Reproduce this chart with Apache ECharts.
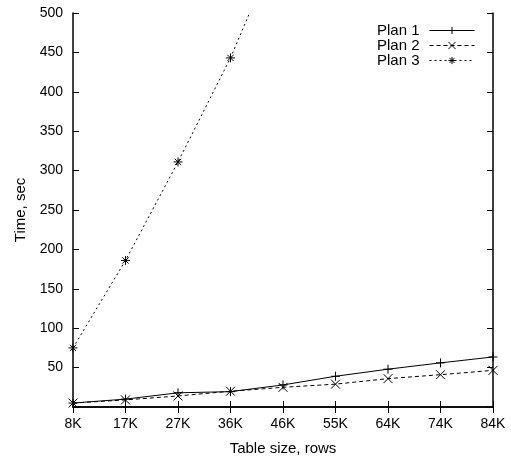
<!DOCTYPE html>
<html><head><meta charset="utf-8">
<script src="https://cdn.jsdelivr.net/npm/echarts@6/dist/echarts.min.js"></script>
<style>html,body{margin:0;padding:0;background:#fff}#c{width:511px;height:457px}</style>
</head><body><div id="c"></div>
<script>
var categories = ['8K','17K','27K','36K','46K','55K','64K','74K','84K'];
var plan1 = [5, 10, 18, 19.5, 28, 39, 48, 56, 63.5];
var plan2 = [5, 9, 14, 20, 25, 29, 36, 41, 46.5];
var plan3 = [75, 186, 311, 443, 600, null, null, null, null];
var yTicks = {min: 0, max: 500, interval: 50};

var font = 'Liberation Sans, Arial, sans-serif';
var plus = 'path://M0,5L10,5M5,0L5,10';
var cross = 'path://M0,0L10,10M0,10L10,0';
var star = 'path://M0,5L10,5M5,0L5,10M1.5,1.5L8.5,8.5M1.5,8.5L8.5,1.5';

function mk(name, data, sym, type) {
  return {
    name: name, type: 'line', data: data, xAxisIndex: 0, yAxisIndex: 0,
    symbol: sym, symbolSize: 9, showSymbol: true, clip: true,
    lineStyle: {color: '#000', width: 1, type: type},
    itemStyle: {color: '#000', borderColor: '#000', borderWidth: 1},
    emphasis: {disabled: true}, animation: false
  };
}

var chart = echarts.init(document.getElementById('c'));
var tickCommon = {show: true, inside: true, length: 6, lineStyle: {color: '#000', width: 1}};
chart.setOption({
  animation: false,
  grid: {left: 73, right: 18, top: 13, bottom: 50, containLabel: false, outerBoundsMode: 'none'},
  legend: {
    right: 36, top: 23, orient: 'vertical', align: 'right', padding: 0,
    itemWidth: 45, itemHeight: 9, itemGap: 0,
    textStyle: {fontFamily: font, fontSize: 15, lineHeight: 14.5, color: '#000', padding: [0, 5, 0, 0]},
    lineStyle: {width: 1, type: 'inherit'},
    itemStyle: {borderWidth: 1},
    data: ['Plan 1', 'Plan 2', 'Plan 3']
  },
  xAxis: [{
    type: 'category', data: categories, boundaryGap: false, position: 'bottom',
    axisLine: {show: true, lineStyle: {color: '#000', width: 1.5}},
    axisTick: tickCommon,
    axisLabel: {color: '#000', fontFamily: font, fontSize: 14, margin: 10},
    name: 'Table size, rows', nameLocation: 'middle', nameGap: 34,
    nameTextStyle: {color: '#000', fontFamily: font, fontSize: 15},
    splitLine: {show: false}
  }, {
    type: 'category', data: categories, boundaryGap: false, position: 'top',
    axisLine: {show: true, lineStyle: {color: '#000', width: 1.5}},
    axisTick: tickCommon, axisLabel: {show: false}, splitLine: {show: false}
  }],
  yAxis: [{
    type: 'value', min: yTicks.min, max: yTicks.max, interval: yTicks.interval, position: 'left',
    axisLine: {show: true, lineStyle: {color: '#000', width: 1.5}},
    axisTick: tickCommon,
    axisLabel: {color: '#000', fontFamily: font, fontSize: 14, margin: 10,
      formatter: function (v) { return v === 0 ? '' : String(v); }},
    name: 'Time, sec', nameLocation: 'middle', nameGap: 42, nameRotate: 90,
    nameTextStyle: {color: '#000', fontFamily: font, fontSize: 15},
    splitLine: {show: false}
  }, {
    type: 'value', min: yTicks.min, max: yTicks.max, interval: yTicks.interval, position: 'right',
    axisLine: {show: true, lineStyle: {color: '#000', width: 1.5}},
    axisTick: tickCommon, axisLabel: {show: false}, splitLine: {show: false}
  }],
  series: [
    mk('Plan 1', plan1, plus, 'solid'),
    mk('Plan 2', plan2, cross, [4, 3]),
    mk('Plan 3', plan3, star, [2, 3])
  ]
});
</script></body></html>
